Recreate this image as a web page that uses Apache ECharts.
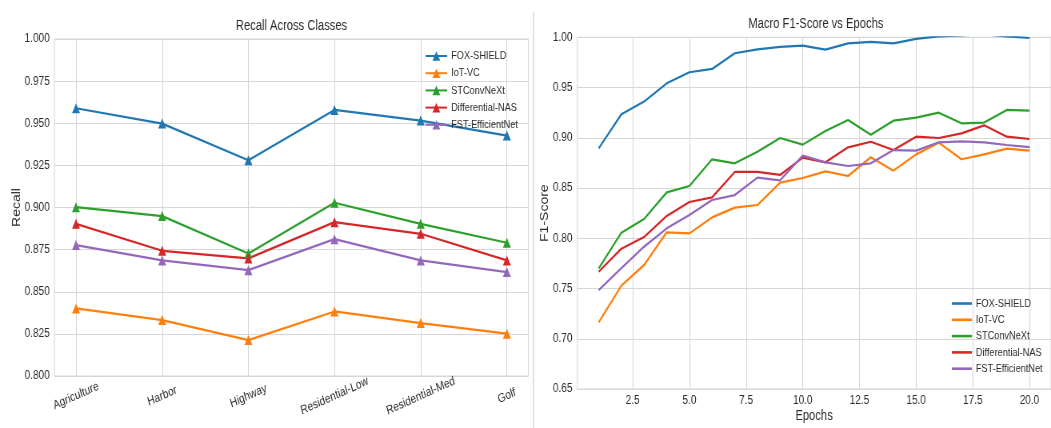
<!DOCTYPE html>
<html>
<head>
<meta charset="utf-8">
<script src="https://cdn.jsdelivr.net/npm/echarts@6/dist/echarts.min.js"></script>
<style>
html,body{margin:0;padding:0;background:#fff;overflow:hidden;}
#wrap{width:1051px;height:428px;overflow:hidden;position:relative;}
#c{width:1314px;height:428px;transform:scaleX(0.79985);transform-origin:0 0;position:absolute;left:0;top:0;}
</style>
</head>
<body>
<div id="wrap"><div id="c"></div></div>
<script>
// ---- data ----
const models = ['FOX-SHIELD', 'IoT-VC', 'STConvNeXt', 'Differential-NAS', 'FST-EfficientNet'];
const colors = ['#1f77b4', '#ff7f0e', '#2ca02c', '#d62728', '#9467bd'];

const categories = ['Agriculture', 'Harbor', 'Highway', 'Residential-Low', 'Residential-Med', 'Golf'];
const recallFox = [0.9589, 0.9498, 0.9280, 0.9579, 0.9516, 0.9427];
const recallIot = [0.8401, 0.8332, 0.8213, 0.8383, 0.8314, 0.8251];
const recallSt  = [0.9002, 0.8949, 0.8727, 0.9028, 0.8903, 0.8791];
const recallNas = [0.8903, 0.8743, 0.8698, 0.8913, 0.8844, 0.8686];
const recallFst = [0.8777, 0.8686, 0.8628, 0.8812, 0.8686, 0.8617];

const epochs = [1, 2, 3, 4, 5, 6, 7, 8, 9, 10, 11, 12, 13, 14, 15, 16, 17, 18, 19, 20];
const f1Fox = [0.8895, 0.9234, 0.9360, 0.9542, 0.9652, 0.9685, 0.9841, 0.9880, 0.9904, 0.9917,
               0.9877, 0.9940, 0.9954, 0.9940, 0.9985, 1.0010, 1.0020, 1.0030, 1.0010, 0.9993];
const f1Iot = [0.7163, 0.7528, 0.7734, 0.8059, 0.8049, 0.8208, 0.8305, 0.8331, 0.8553, 0.8600,
               0.8666, 0.8620, 0.8806, 0.8673, 0.8835, 0.8952, 0.8786, 0.8835, 0.8892, 0.8872];
const f1St  = [0.7700, 0.8056, 0.8192, 0.8457, 0.8520, 0.8786, 0.8746, 0.8862, 0.8998, 0.8932,
               0.9068, 0.9177, 0.9031, 0.9170, 0.9200, 0.9250, 0.9144, 0.9151, 0.9277, 0.9270];
const f1Nas = [0.7667, 0.7896, 0.8012, 0.8222, 0.8361, 0.8407, 0.8660, 0.8660, 0.8630, 0.8802,
               0.8756, 0.8905, 0.8961, 0.8878, 0.9011, 0.8998, 0.9044, 0.9124, 0.9011, 0.8988];
const f1Fst = [0.7485, 0.7704, 0.7916, 0.8099, 0.8231, 0.8381, 0.8430, 0.8603, 0.8577, 0.8822,
               0.8756, 0.8719, 0.8746, 0.8878, 0.8872, 0.8955, 0.8965, 0.8955, 0.8928, 0.8908];

const recallTicks = [0, 1, 2, 3, 4, 5];
const epochTicks = [2.5, 5, 7.5, 10, 12.5, 15, 17.5, 20];

// ---- chart (drawn in a horizontally stretched space, squeezed back by CSS like the reference) ----
const recallSets = [recallFox, recallIot, recallSt, recallNas, recallFst];
const f1Sets = [f1Fox, f1Iot, f1St, f1Nas, f1Fst];

const FONT = "'Liberation Sans', Arial, sans-serif";
const TXT = '#2b2b2b';
const GRIDC = '#d6d6d6';

const series = [];
models.forEach((m, i) => {
  series.push({
    name: m,
    type: 'line',
    xAxisIndex: 0, yAxisIndex: 0,
    data: recallSets[i].map((v, k) => [k, v]),
    symbol: 'triangle',
    symbolSize: 10,
    showSymbol: true,
    lineStyle: { width: 2.2, color: colors[i] },
    itemStyle: { color: colors[i] },
    animation: false
  });
});
models.forEach((m, i) => {
  series.push({
    name: m + '|f1',
    type: 'line',
    xAxisIndex: 1, yAxisIndex: 1,
    data: f1Sets[i].map((v, k) => [epochs[k], v]),
    symbol: 'none',
    showSymbol: false,
    clip: true,
    lineStyle: { width: 2.2, color: colors[i] },
    itemStyle: { color: colors[i] },
    animation: false
  });
});

const chart = echarts.init(document.getElementById('c'), null, { renderer: 'canvas', width: 1314, height: 428 });
chart.setOption({
  backgroundColor: '#ffffff',
  animation: false,
  textStyle: { fontFamily: FONT },
  title: [
    { text: 'Recall Across Classes', left: 364.4, top: 19, padding: 0, textAlign: 'center',
      textStyle: { fontFamily: FONT, fontSize: 14, fontWeight: 'normal', color: TXT } },
    { text: 'Macro F1-Score vs Epochs', left: 1020, top: 17, padding: 0, textAlign: 'center',
      textStyle: { fontFamily: FONT, fontSize: 14, fontWeight: 'normal', color: TXT } }
  ],
  grid: [
    { left: 68.1, top: 39, width: 592.5, height: 337, show: true, borderColor: GRIDC, borderWidth: 1, backgroundColor: 'transparent' },
    { left: 721.6, top: 37.3, width: 596.3, height: 351.7, show: true, borderColor: GRIDC, borderWidth: 1, backgroundColor: 'transparent' }
  ],
  legend: [
    { data: models, orient: 'vertical', left: 531, top: 50, padding: 0, itemWidth: 27, itemHeight: 12, itemGap: 5.2,
      textStyle: { fontFamily: FONT, fontSize: 11.5, color: TXT } },
    { data: models.map(m => ({ name: m + '|f1', icon: 'rect' })), orient: 'vertical', left: 1190, top: 297.5,
      padding: 0, itemWidth: 25, itemHeight: 2.6, itemGap: 4.3,
      formatter: n => n.split('|')[0],
      textStyle: { fontFamily: FONT, fontSize: 11.5, color: TXT } }
  ],
  xAxis: [
    { type: 'value', gridIndex: 0, min: -0.25, max: 5.25,
      axisLine: { show: false }, axisTick: { show: false, customValues: recallTicks },
      splitLine: { show: true, lineStyle: { color: GRIDC, width: 1 } },
      axisLabel: { customValues: recallTicks, formatter: v => categories[Math.round(v)] || '',
        rotate: 20, align: 'center', verticalAlign: 'middle', margin: 20,
        fontFamily: FONT, fontSize: 12.5, color: TXT } },
    { type: 'value', gridIndex: 1, min: 0.05, max: 20.95,
      name: 'Epochs', nameLocation: 'middle', nameGap: 20, nameMoveOverlap: false,
      nameTextStyle: { fontFamily: FONT, fontSize: 14, color: TXT },
      axisLine: { show: false }, axisTick: { show: false, customValues: epochTicks },
      splitLine: { show: true, lineStyle: { color: GRIDC, width: 1 } },
      axisLabel: { customValues: epochTicks, formatter: v => v.toFixed(1), margin: 5,
        fontFamily: FONT, fontSize: 12.5, color: TXT } }
  ],
  yAxis: [
    { type: 'value', gridIndex: 0, min: 0.8, max: 1.0, interval: 0.025,
      name: 'Recall', nameLocation: 'middle', nameGap: 40, nameMoveOverlap: false,
      nameTextStyle: { fontFamily: FONT, fontSize: 14, color: TXT },
      axisLine: { show: false }, axisTick: { show: false },
      splitLine: { show: true, lineStyle: { color: GRIDC, width: 1 } },
      axisLabel: { formatter: v => v.toFixed(3), margin: 6, fontFamily: FONT, fontSize: 12.5, color: TXT } },
    { type: 'value', gridIndex: 1, min: 0.65, max: 1.0, interval: 0.05,
      name: 'F1-Score', nameLocation: 'middle', nameGap: 33, nameMoveOverlap: false,
      nameTextStyle: { fontFamily: FONT, fontSize: 14, color: TXT },
      axisLine: { show: false }, axisTick: { show: false },
      splitLine: { show: true, lineStyle: { color: GRIDC, width: 1 } },
      axisLabel: { formatter: v => v.toFixed(2), margin: 6, fontFamily: FONT, fontSize: 12.5, color: TXT } }
  ],
  graphic: [
    { type: 'line', shape: { x1: 667, y1: 12, x2: 667, y2: 428 }, style: { stroke: '#cfcfcf', lineWidth: 1.25 }, silent: true }
  ],
  series: series
});
</script>
</body>
</html>
